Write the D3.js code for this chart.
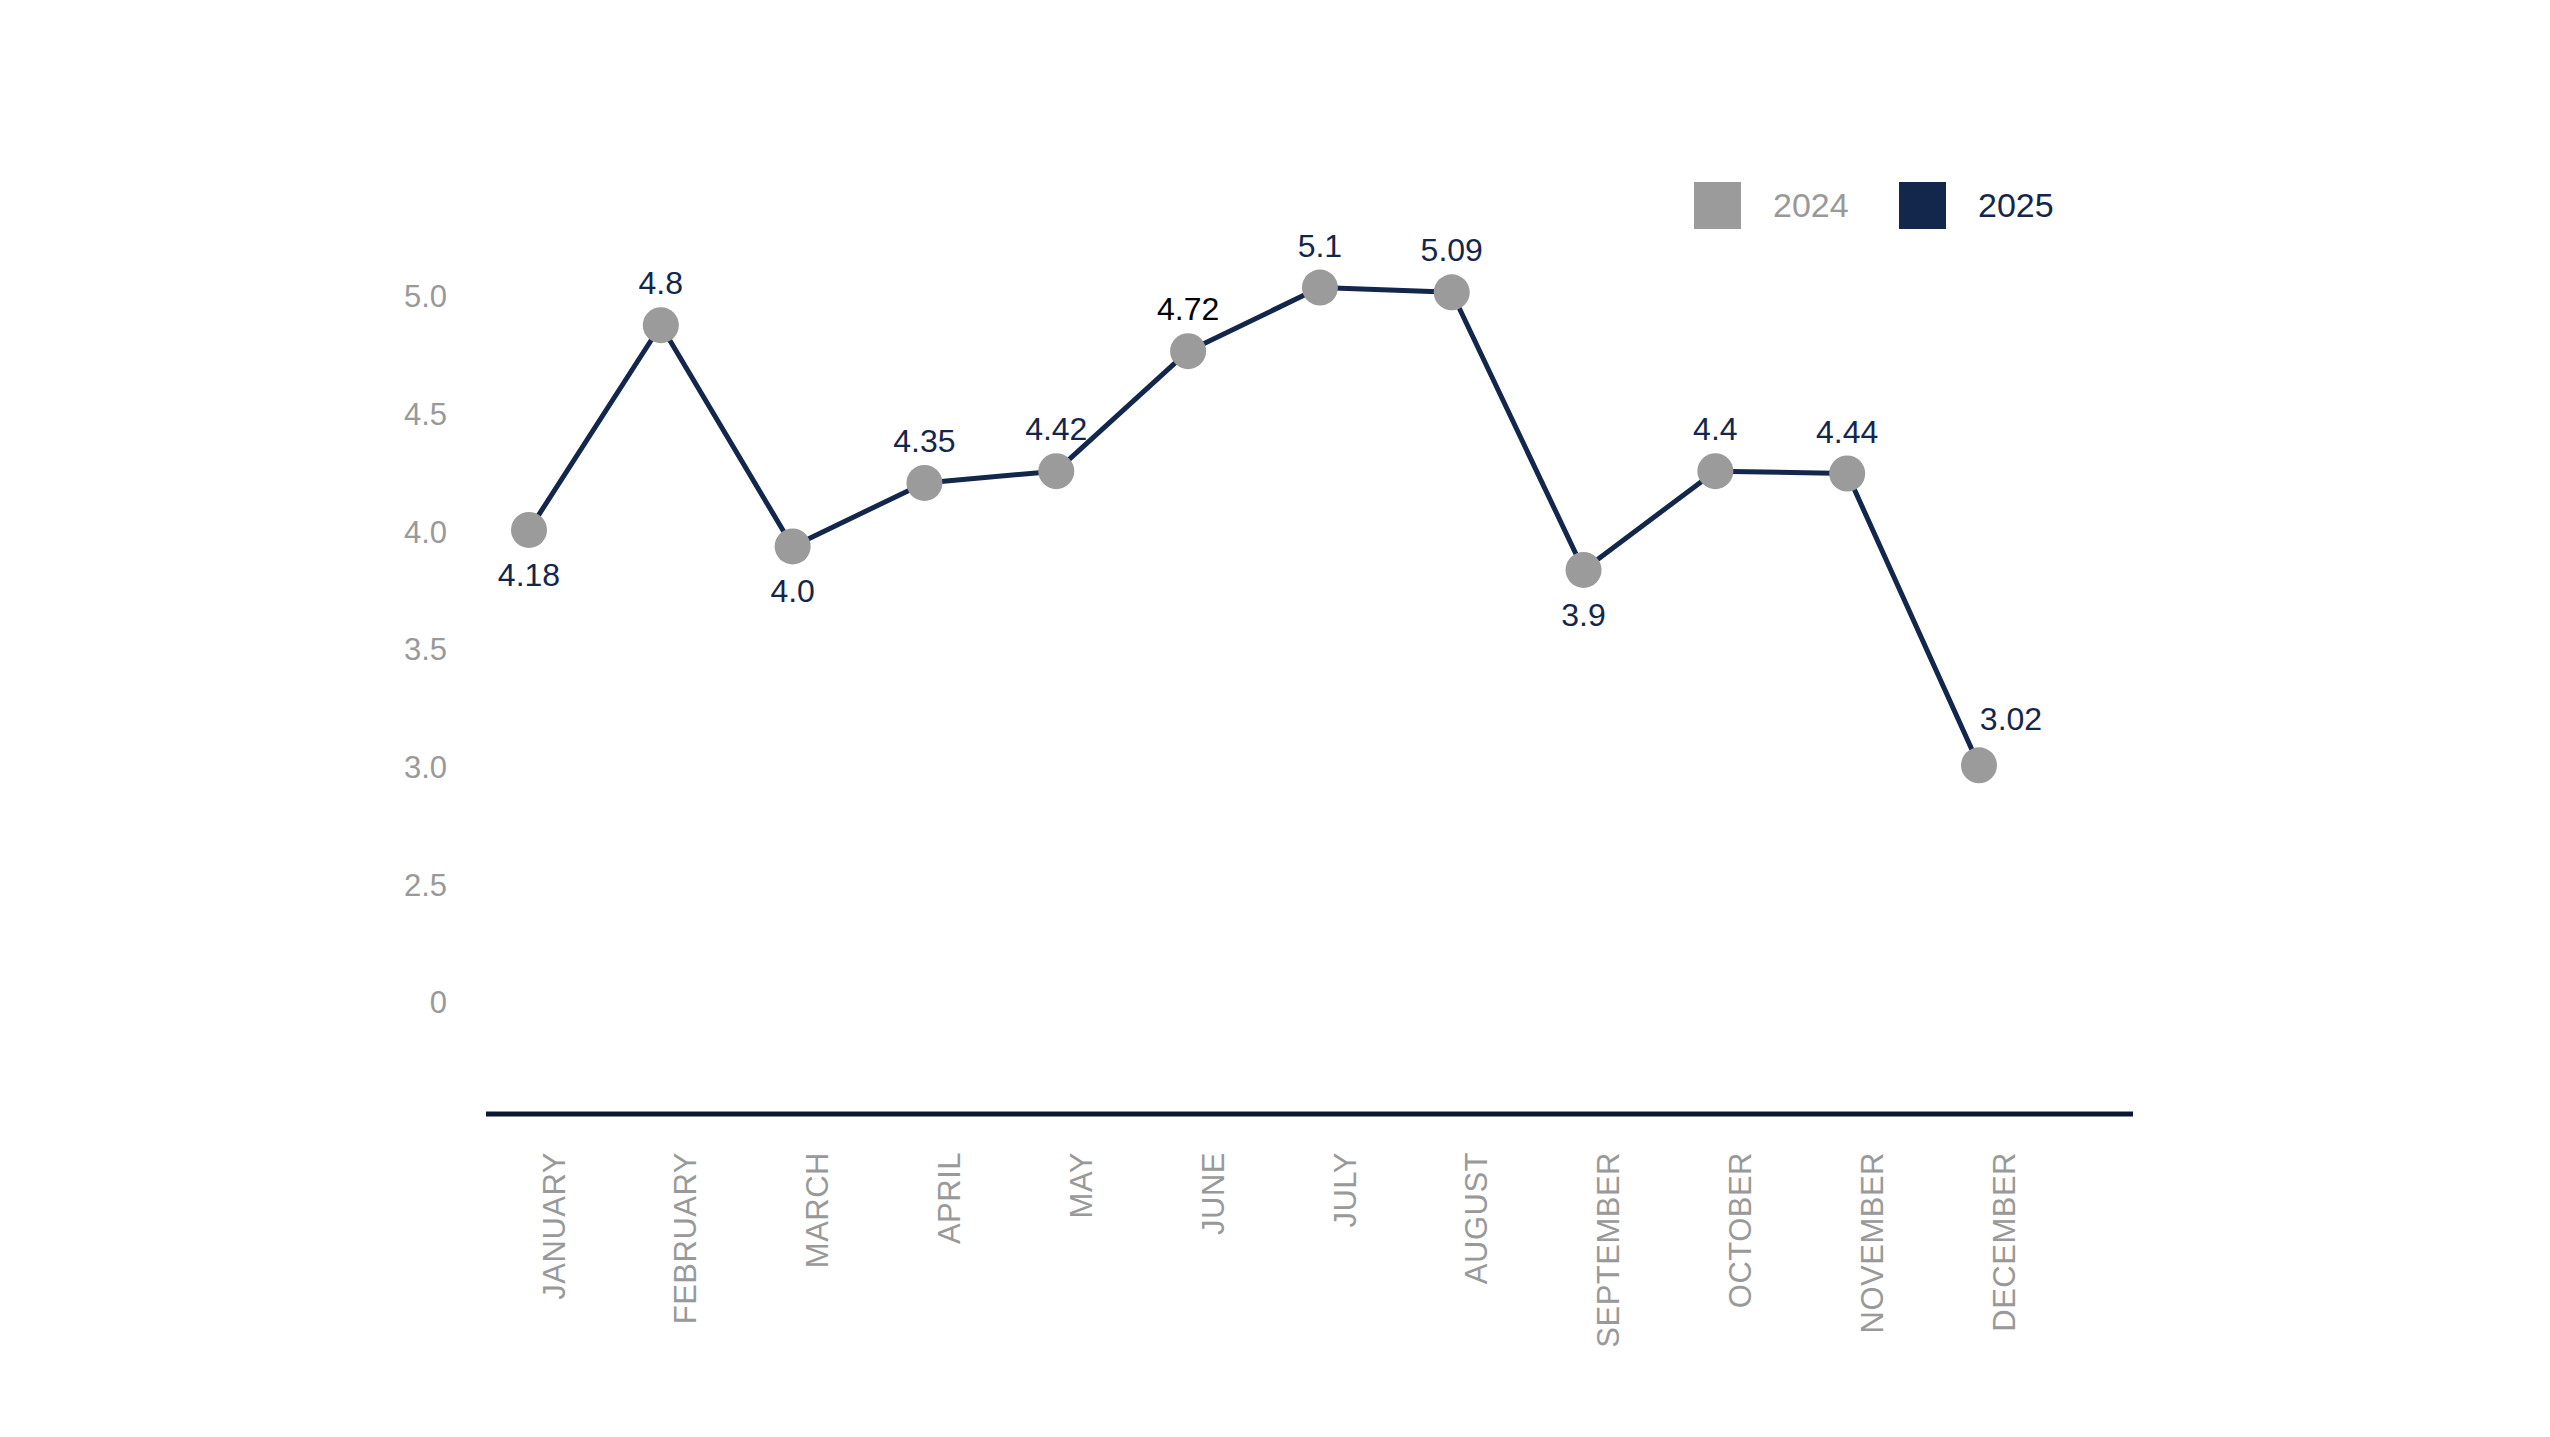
<!DOCTYPE html>
<html>
<head>
<meta charset="utf-8">
<script src="https://cdn.jsdelivr.net/npm/d3@7"></script>
<style>
  html, body { margin: 0; padding: 0; background: #ffffff; }
  svg { display: block; }
  text { font-family: "Liberation Sans", Arial, sans-serif; }
</style>
</head>
<body>
<svg id="chart" width="2550" height="1437"></svg>
<script>
// ---- data ----
const months = ["JANUARY","FEBRUARY","MARCH","APRIL","MAY","JUNE","JULY","AUGUST","SEPTEMBER","OCTOBER","NOVEMBER","DECEMBER"];
// values as plotted against the chart's axis
const values2025 = [4.01, 4.88, 3.94, 4.21, 4.26, 4.77, 5.04, 5.02, 3.84, 4.26, 4.25, 3.01];
// printed value labels
const valueLabels = ["4.18","4.8","4.0","4.35","4.42","4.72","5.1","5.09","3.9","4.4","4.44","3.02"];
const labelSide = ["below","above","below","above","above","above","above","above","below","above","above","right"];
const yTickValues = [5, 4.5, 4, 3.5, 3, 2.5, 2];
const yTickLabels = ["5.0","4.5","4.0","3.5","3.0","2.5","0"];
const legendItems = ["2024","2025"];

// ---- styles ----
const NAVY = "#13264b";
const GREY = "#9b9b9b";
const TEXT_GREY = "#999999";

const svg = d3.select("#chart");

const x = d3.scalePoint().domain(months).range([529, 1979]);
const y = d3.scaleLinear().domain([2, 5]).range([1003, 297]);

// y axis (labels only)
const yAxis = d3.axisLeft(y)
  .tickValues(yTickValues)
  .tickFormat((d, i) => yTickLabels[i])
  .tickSize(0)
  .tickPadding(0);
const gy = svg.append("g").attr("transform", "translate(447,0)").call(yAxis);
gy.select(".domain").remove();
gy.selectAll("text")
  .attr("fill", TEXT_GREY)
  .style("font-family", "'Liberation Sans', Arial, sans-serif")
  .style("font-size", "31px");

// baseline
svg.append("line")
  .attr("x1", 486).attr("x2", 2133)
  .attr("y1", 1114).attr("y2", 1114)
  .attr("stroke", "#0c1833")
  .attr("stroke-width", 5);

// x axis (rotated month labels)
const xAxis = d3.axisBottom(x).tickSize(0).tickPadding(0);
const gx = svg.append("g").attr("transform", "translate(0,1152)").call(xAxis);
gx.select(".domain").remove();
gx.selectAll(".tick text")
  .attr("y", 0)
  .attr("dy", "0.36em")
  .attr("text-anchor", "end")
  .attr("transform", "translate(24,0) rotate(-90)")
  .attr("fill", TEXT_GREY)
  .style("font-family", "'Liberation Sans', Arial, sans-serif")
  .style("font-size", "31px")
  .style("letter-spacing", "0.5px");

// line
const data = months.map((m, i) => ({ m, v: values2025[i], label: valueLabels[i], side: labelSide[i] }));
const line = d3.line().x(d => x(d.m)).y(d => y(d.v));
svg.append("path")
  .datum(data)
  .attr("d", line)
  .attr("fill", "none")
  .attr("stroke", NAVY)
  .attr("stroke-width", 5)
  .attr("stroke-linejoin", "round");

// dots
svg.append("g").selectAll("circle")
  .data(data)
  .join("circle")
  .attr("cx", d => x(d.m))
  .attr("cy", d => y(d.v))
  .attr("r", 18)
  .attr("fill", GREY);

// value labels
svg.append("g").selectAll("text")
  .data(data)
  .join("text")
  .attr("x", d => x(d.m) + (d.side === "right" ? 32 : 0))
  .attr("y", d => y(d.v) + (d.side === "below" ? 56 : (d.side === "right" ? -35 : -31)))
  .attr("text-anchor", "middle")
  .attr("fill", (d, i) => i === 5 ? "#000000" : NAVY)
  .style("font-size", "32px")
  .text(d => d.label);

// legend
const legendColors = [GREY, NAVY];
const legendTextColors = [TEXT_GREY, NAVY];
const legendX = [1694, 1899];
const lg = svg.append("g");
legendItems.forEach((name, i) => {
  lg.append("rect")
    .attr("x", legendX[i]).attr("y", 182)
    .attr("width", 47).attr("height", 47)
    .attr("fill", legendColors[i]);
  lg.append("text")
    .attr("x", legendX[i] + 79).attr("y", 217)
    .attr("fill", legendTextColors[i])
    .style("font-size", "34px")
    .text(name);
});
</script>
</body>
</html>
